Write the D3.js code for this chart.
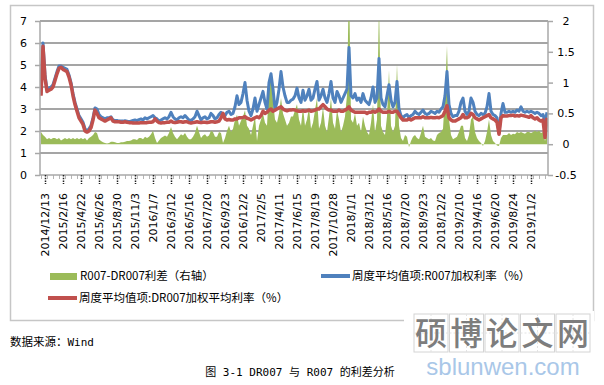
<!DOCTYPE html>
<html>
<head>
<meta charset="utf-8">
<script src="https://cdn.jsdelivr.net/npm/d3@7"></script>
<style>
  body { margin: 0; background: #fff; }
  svg { display: block; }
</style>
</head>
<body>
<svg id="chart"></svg>
<script>
// weekly averages, R007 (blue) / DR007 (red) in %, spread on right axis
const r007 = [
  3.65, 6.0, 4.55, 3.9, 3.95, 4.0, 4.1, 4.4, 4.7, 4.95,
  4.95, 4.9, 4.85, 4.8, 4.55, 4.2, 3.7, 3.3, 3.0, 2.7,
  2.55, 2.4, 2.1, 2.0, 2.1, 2.25, 2.6, 3.05, 3.0, 2.75,
  2.65, 2.6, 2.55, 2.6, 2.6, 2.65, 2.5, 2.48, 2.48, 2.45,
  2.45, 2.45, 2.47, 2.45, 2.42, 2.45, 2.48, 2.5, 2.47, 2.52,
  2.55, 2.5, 2.6, 2.55, 2.6, 2.65, 2.7, 2.6, 2.55, 2.45,
  2.5, 2.55, 2.6, 2.55, 2.65, 2.85, 2.65, 2.55, 2.5, 2.6,
  2.65, 2.6, 2.7, 2.6, 2.5, 2.48, 2.55, 2.65, 2.9, 2.7,
  2.5, 2.6, 2.65, 2.55, 2.6, 2.8, 2.7, 2.55, 2.6, 2.75,
  2.85, 2.65, 2.7, 2.85, 2.9, 2.75, 2.8, 3.1, 3.6, 3.2,
  3.3, 3.7, 4.2, 3.4, 2.9, 2.7, 3.0, 3.5, 2.9, 3.2,
  3.5, 3.8, 3.3, 3.0, 4.2, 4.6, 3.9, 3.0, 3.3, 3.9,
  4.7, 4.0, 3.6, 3.3, 3.3, 3.4, 3.45, 3.6, 3.95, 3.5,
  3.3, 3.85, 3.4, 3.6, 3.9, 3.4, 3.5, 3.9, 4.25, 3.4,
  3.6, 3.9, 3.5, 3.3, 3.7, 4.25, 3.5, 3.3, 3.8, 3.6,
  3.3, 3.5, 3.7, 3.9, 5.8, 3.6, 3.5, 3.7, 3.4, 3.5,
  3.3, 3.7, 3.4, 3.3, 3.2, 3.5, 4.0, 3.3, 3.5, 5.3,
  3.5, 3.2, 3.1, 3.6, 4.1, 3.4, 3.1, 3.3, 4.25, 3.0,
  2.7, 2.6, 2.7, 2.75, 2.6, 2.7, 2.75, 2.9, 2.8, 2.75,
  2.85, 2.95, 2.8, 2.75, 2.8, 2.9, 2.85, 2.8, 2.9, 2.85,
  3.0, 3.1, 3.6, 4.7, 3.2, 2.8, 2.65, 2.7, 2.7, 2.9,
  3.3, 3.5, 2.9, 2.75, 2.9, 3.5, 3.3, 2.9, 2.75, 2.7,
  2.8, 2.75, 2.8, 3.1, 3.7, 2.9, 2.75, 2.7, 2.6, 1.9,
  2.8, 3.25, 2.85, 2.85, 2.9, 2.85, 2.9, 2.85, 2.95, 2.9,
  3.1, 2.9, 2.85, 2.9, 2.85, 2.9, 2.85, 2.8, 2.85, 2.8,
  2.7, 2.75, 2.4, 2.85
];

const dr007 = [
  3.6, 5.85, 4.4, 3.8, 3.85, 3.9, 4.0, 4.3, 4.6, 4.85,
  4.9, 4.8, 4.75, 4.7, 4.45, 4.1, 3.6, 3.2, 2.9, 2.6,
  2.45, 2.3, 2.0, 1.95, 2.0, 2.15, 2.5, 2.95, 2.8, 2.6,
  2.55, 2.5, 2.45, 2.5, 2.55, 2.6, 2.45, 2.42, 2.42, 2.42,
  2.4, 2.4, 2.42, 2.4, 2.38, 2.38, 2.36, 2.36, 2.36, 2.36,
  2.38, 2.38, 2.38, 2.38, 2.4, 2.4, 2.42, 2.55, 2.45, 2.38,
  2.36, 2.38, 2.38, 2.4, 2.4, 2.45, 2.4, 2.38, 2.4, 2.42,
  2.42, 2.4, 2.42, 2.42, 2.38, 2.36, 2.38, 2.4, 2.42, 2.4,
  2.38, 2.4, 2.4, 2.38, 2.4, 2.42, 2.42, 2.4, 2.42, 2.45,
  2.6, 2.8, 2.55, 2.5, 2.52, 2.5, 2.5, 2.55, 2.55, 2.6,
  2.6, 2.62, 2.65, 2.58, 2.55, 2.5, 2.55, 2.6, 2.65, 2.6,
  2.7, 2.9, 2.8, 2.85, 2.95, 3.0, 2.9, 2.95, 3.0, 3.05,
  3.1, 3.0, 2.95, 2.92, 2.95, 2.95, 2.97, 2.95, 2.92, 2.9,
  2.9, 2.92, 2.9, 2.92, 2.95, 2.9, 2.92, 2.95, 3.0, 3.0,
  3.1, 3.2, 3.1, 3.0, 2.95, 2.95, 2.9, 2.9, 2.9, 2.95,
  2.9, 2.9, 2.95, 3.0, 3.1, 2.95, 2.9, 2.85, 2.85, 2.85,
  2.85, 2.85, 2.85, 2.8, 2.85, 2.85, 2.9, 2.85, 2.9, 3.0,
  2.9, 2.85, 2.85, 2.85, 2.9, 2.85, 2.85, 2.9, 2.9, 2.75,
  2.6, 2.5, 2.5, 2.5, 2.55, 2.5, 2.55, 2.6, 2.6, 2.6,
  2.6, 2.65, 2.6, 2.6, 2.6, 2.62, 2.6, 2.6, 2.62, 2.6,
  2.65, 2.7, 2.9, 3.15, 2.6, 2.5, 2.45, 2.45, 2.5, 2.55,
  2.6, 2.75, 2.6, 2.6, 2.65, 2.8, 2.75, 2.6, 2.55, 2.5,
  2.55, 2.6, 2.65, 2.7, 2.75, 2.6, 2.55, 2.5, 2.4, 1.85,
  2.6, 2.7, 2.68, 2.68, 2.7, 2.7, 2.72, 2.68, 2.7, 2.68,
  2.72, 2.7, 2.68, 2.65, 2.62, 2.7, 2.6, 2.55, 2.6, 2.5,
  2.45, 2.5, 1.7, 2.6
];

const spread = [
  0.2, 0.15, 0.12, 0.08, 0.1, 0.08, 0.1, 0.1, 0.08, 0.1,
  0.06, 0.08, 0.1, 0.08, 0.1, 0.08, 0.1, 0.08, 0.1, 0.08,
  0.1, 0.08, 0.1, 0.06, 0.1, 0.12, 0.15, 0.2, 0.18, 0.08,
  0.05, 0.03, 0.02, 0.01, 0.02, 0.04, 0.04, 0.03, 0.02, 0.02,
  0.03, 0.03, 0.04, 0.05, 0.05, 0.06, 0.08, 0.08, 0.07, 0.1,
  0.1, 0.08, 0.12, 0.1, 0.12, 0.16, 0.22, 0.1, 0.02, 0.06,
  0.1, 0.12, 0.14, 0.12, 0.18, 0.28, 0.18, 0.12, 0.08, 0.12,
  0.16, 0.14, 0.18, 0.12, 0.08, 0.08, 0.12, 0.18, 0.3, 0.2,
  0.1, 0.14, 0.16, 0.12, 0.14, 0.22, 0.2, 0.12, 0.12, 0.2,
  0.18, 0.02, 0.1, 0.22, 0.3, 0.2, 0.25, 0.4, 0.48, 0.3,
  0.38, 0.45, 0.55, 0.3, 0.25, 0.15, 0.3, 0.45, 0.05, 0.3,
  0.4, 0.5, 0.35, 0.3, 0.9, 1.15, 0.7, 0.4, 0.35, 0.5,
  0.75, 0.5, 0.4, 0.3, 0.35, 0.45, 0.45, 0.55, 0.65, 0.4,
  0.3, 0.6, 0.3, 0.4, 0.6, 0.25, 0.35, 0.55, 0.75, 0.25,
  0.35, 0.6, 0.3, 0.2, 0.45, 0.75, 0.35, 0.25, 0.55, 0.4,
  0.2, 0.3, 0.45, 0.8, 2.7, 0.4, 0.35, 0.5, 0.3, 0.35,
  0.2, 0.45, 0.3, 0.2, 0.15, 0.35, 0.65, 0.2, 0.4, 2.3,
  0.3, 0.2, 0.15, 0.45, 1.2, 0.3, 0.2, 0.3, 1.3, 0.3,
  0.1, 0.05, 0.15, 0.12, -0.05, 0.05, 0.12, 0.15, 0.1, 0.08,
  0.18, 0.3, 0.12, 0.1, 0.08, 0.1, 0.06, 0.05, 0.15, 0.18,
  0.2, 0.25, 0.8, 1.6, 0.4, 0.15, 0.08, 0.1, 0.12, 0.2,
  0.3, 0.3, 0.1, 0.05, 0.15, 0.4, 0.45, 0.2, 0.1, 0.05,
  0.02, -0.03, 0.05, 0.2, 0.4, 0.15, 0.05, 0.02, -0.02, -0.03,
  0.1, 0.15, 0.15, 0.15, 0.18, 0.15, 0.17, 0.16, 0.2, 0.18,
  0.2, 0.18, 0.17, 0.2, 0.2, 0.18, 0.2, 0.22, 0.2, 0.22,
  0.18, 0.2, 0.05, 0.18
];

const tickLabels = [
  "2014/12/13", "2015/2/16", "2015/4/22", "2015/6/26", "2015/8/30", "2015/11/3",
  "2016/1/7", "2016/3/12", "2016/5/16", "2016/7/20", "2016/9/23", "2016/12/2",
  "2017/2/5", "2017/4/11", "2017/6/15", "2017/8/19", "2017/10/28", "2018/1/1",
  "2018/3/12", "2018/5/16", "2018/7/20", "2018/9/23", "2018/12/2", "2019/2/10",
  "2019/4/16", "2019/6/20", "2019/8/24", "2019/11/2"
];
const tickStart = 2, tickStep = 9;

const leftTicks = [0, 1, 2, 3, 4, 5, 6, 7];
const rightTicks = [-0.5, 0, 0.5, 1, 1.5, 2];

const seriesNames = ["R007-DR007利差（右轴）", "周度平均值项:R007加权利率（%）", "周度平均值项:DR007加权平均利率（%）"];
const colors = ["#9bbb59", "#4f81bd", "#c0504d"];

const W = 604, H = 385;
const plot = { left: 40, right: 548, top: 21, bottom: 175 };

const svg = d3.select("#chart").attr("width", W).attr("height", H);
svg.append("rect").attr("width", W).attr("height", H).attr("fill", "#fff");

// outer chart frame
svg.append("rect")
  .attr("x", 10.5).attr("y", 5.5)
  .attr("width", 583).attr("height", 315)
  .attr("fill", "none").attr("stroke", "#c6c6c6").attr("stroke-width", 1.5);

const x = d3.scaleLinear().domain([0, r007.length - 1]).range([41, 547]);
const yL = d3.scaleLinear().domain([0, 7]).range([plot.bottom, plot.top]);
const yR = d3.scaleLinear().domain([-0.5, 2]).range([plot.bottom, plot.top]);

// gridlines
svg.append("g").selectAll("line")
  .data(leftTicks.filter(d => d > 0))
  .enter().append("line")
  .attr("x1", plot.left).attr("x2", plot.right)
  .attr("y1", d => yL(d)).attr("y2", d => yL(d))
  .attr("stroke", "#878787").attr("stroke-width", 1.6);

svg.append("clipPath").attr("id", "clip")
  .append("rect")
  .attr("x", plot.left).attr("y", plot.top)
  .attr("width", plot.right - plot.left).attr("height", plot.bottom - plot.top);

const marks = svg.append("g").attr("clip-path", "url(#clip)");

const area = d3.area()
  .x((d, i) => x(i))
  .y0(yR(0))
  .y1(d => yR(d));

marks.append("path")
  .attr("d", area(spread))
  .attr("fill", colors[0]);

const lineL = d3.line()
  .x((d, i) => x(i))
  .y(d => yL(d));

marks.append("path")
  .attr("d", lineL(r007))
  .attr("fill", "none")
  .attr("stroke", colors[1])
  .attr("stroke-width", 3)
  .attr("stroke-linejoin", "round");

marks.append("path")
  .attr("d", lineL(dr007))
  .attr("fill", "none")
  .attr("stroke", colors[2])
  .attr("stroke-width", 3.5)
  .attr("stroke-linejoin", "round");

// left axis
const gL = svg.append("g")
  .attr("transform", "translate(" + plot.left + ",0)")
  .call(d3.axisLeft(yL).tickValues(leftTicks).tickSize(5).tickSizeOuter(0).tickPadding(8).tickFormat(d3.format("d")));

// right axis
const gR = svg.append("g")
  .attr("transform", "translate(" + plot.right + ",0)")
  .call(d3.axisRight(yR).tickValues(rightTicks).tickSize(5).tickSizeOuter(0).tickFormat(d => d));
gR.selectAll(".tick text").attr("x", 18).attr("text-anchor", "middle");

// minor ticks on x axis
const minorIdx = d3.range(0, r007.length, 3);
const gMinor = svg.append("g")
  .attr("transform", "translate(0," + plot.bottom + ")")
  .call(d3.axisBottom(x).tickValues(minorIdx).tickSize(4).tickFormat(""));
gMinor.select(".domain").remove();
gMinor.selectAll(".tick line").attr("stroke", "#b5b5b5");

// major ticks + labels
const majorIdx = tickLabels.map((d, i) => tickStart + i * tickStep);
const gX = svg.append("g")
  .attr("transform", "translate(0," + plot.bottom + ")")
  .call(d3.axisBottom(x).tickValues(majorIdx).tickSize(9).tickSizeOuter(0)
    .tickFormat((d, i) => tickLabels[i]));
gX.select(".domain").attr("d", "M" + plot.left + ",0H" + plot.right);
gX.selectAll(".tick line")
  .attr("stroke", "#222").attr("stroke-width", 1.5).attr("stroke-dasharray", "1.5,1.2");
gX.selectAll(".tick text")
  .attr("transform", "rotate(-90)")
  .attr("x", -18).attr("y", 0).attr("dy", "0.36em")
  .attr("text-anchor", "end");

[gL, gR, gX].forEach(g => {
  g.selectAll("text")
    .attr("font-family", "DejaVu Sans")
    .attr("font-size", 11)
    .attr("fill", "#000");
});
gL.select(".domain").attr("d", "M0," + plot.top + "V" + plot.bottom);
gR.select(".domain").attr("d", "M0," + plot.top + "V" + plot.bottom);
gL.selectAll(".domain, .tick line").attr("stroke", "#a8a8a8").attr("stroke-width", 1.5);
gR.selectAll(".domain, .tick line").attr("stroke", "#a8a8a8").attr("stroke-width", 1.5);
gX.select(".domain").attr("stroke", "#a8a8a8").attr("stroke-width", 1.5);

// legend
const legendFont = "'Noto Sans CJK SC', sans-serif";
const legend = svg.append("g").attr("font-family", legendFont).attr("font-size", 11.5).attr("fill", "#000");

legend.append("rect").attr("x", 50).attr("y", 273).attr("width", 27).attr("height", 7).attr("fill", colors[0]);
legend.append("text").attr("x", 80).attr("y", 276).attr("dy", "0.36em").text(seriesNames[0]);

legend.append("line").attr("x1", 321).attr("x2", 350).attr("y1", 276).attr("y2", 276)
  .attr("stroke", colors[1]).attr("stroke-width", 4);
legend.append("text").attr("x", 352).attr("y", 276).attr("dy", "0.36em").text(seriesNames[1]);

legend.append("line").attr("x1", 48).attr("x2", 77).attr("y1", 298).attr("y2", 298)
  .attr("stroke", colors[2]).attr("stroke-width", 4);
legend.append("text").attr("x", 79).attr("y", 298).attr("dy", "0.36em").text(seriesNames[2]);

// watermark box
const wm = svg.append("g");
wm.append("rect").attr("x", 404).attr("y", 311).attr("width", 190).attr("height", 74).attr("fill", "#fff");
const boxX = d3.range(5).map(i => 414 + i * 35.5);
boxX.forEach(bx => {
  wm.append("rect").attr("x", bx).attr("y", 314).attr("width", 34).attr("height", 38)
    .attr("fill", "none").attr("stroke", "#d4d4d4").attr("stroke-width", 1);
  wm.append("line").attr("x1", bx + 17).attr("x2", bx + 17).attr("y1", 314).attr("y2", 352)
    .attr("stroke", "#e2e2e2").attr("stroke-dasharray", "2,2");
  wm.append("line").attr("x1", bx).attr("x2", bx + 34).attr("y1", 333).attr("y2", 333)
    .attr("stroke", "#e2e2e2").attr("stroke-dasharray", "2,2");
});
"硕博论文网".split("").forEach((c, i) => {
  wm.append("text").attr("x", boxX[i] + 17).attr("y", 345)
    .attr("text-anchor", "middle")
    .attr("font-family", legendFont).attr("font-size", 32).attr("font-weight", 500)
    .attr("fill", "#7d7d7d").text(c);
});
wm.append("text").attr("x", 503).attr("y", 375).attr("text-anchor", "middle")
  .attr("font-family", "'Liberation Sans', sans-serif").attr("font-size", 24)
  .attr("fill", "#a9c7e8").text("sblunwen.com");

// source note and caption
const note = svg.append("text").attr("x", 10).attr("y", 346)
  .attr("font-family", legendFont).attr("font-size", 11.5).attr("fill", "#000");
note.append("tspan").text("数据来源：");
note.append("tspan").attr("font-family", "'DejaVu Sans Mono', monospace").attr("font-size", 11).text("Wind");

svg.append("text").attr("x", 300).attr("y", 376).attr("text-anchor", "middle")
  .attr("font-family", "'DejaVu Sans Mono', 'Noto Sans CJK SC', monospace")
  .attr("font-size", 11).attr("fill", "#000")
  .text("图 3-1 DR007 与 R007 的利差分析");
</script>
</body>
</html>
